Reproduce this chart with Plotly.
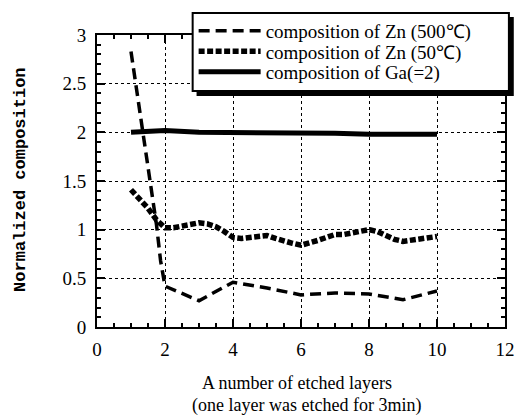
import plotly.graph_objects as go

# ---- data ----
x_zn500 = [1, 1.3, 1.6, 1.75, 1.87, 2, 3, 4, 5, 6, 7, 8, 9, 10]
y_zn500 = [2.83, 2.1, 1.4, 1.05, 0.68, 0.42, 0.27, 0.46, 0.40, 0.33, 0.35, 0.34, 0.28, 0.37]

x_zn50 = [1.0, 1.25, 1.5, 1.75, 2.0, 2.25, 2.5, 2.75, 3.0, 3.25, 3.5, 3.75, 4.0, 4.25, 4.5,
          4.75, 5.0, 5.25, 5.5, 5.75, 6.0, 6.25, 6.5, 6.75, 7.0, 7.25, 7.5, 7.75, 8.0, 8.25,
          8.5, 8.75, 9.0, 9.25, 9.5, 9.75, 10.0]
y_zn50 = [1.41, 1.32, 1.22, 1.10, 1.02, 1.02, 1.04, 1.06, 1.07, 1.06, 1.03, 0.98, 0.92, 0.91, 0.92,
          0.94, 0.94, 0.91, 0.88, 0.86, 0.84, 0.86, 0.89, 0.92, 0.95, 0.95, 0.97, 0.99, 1.00, 0.98,
          0.94, 0.90, 0.88, 0.89, 0.91, 0.91, 0.93]

x_ga = [1, 2, 3, 4, 5, 6, 7, 8, 9, 10]
y_ga = [2.0, 2.02, 2.0, 2.0, 1.99, 1.99, 1.99, 1.98, 1.98, 1.98]

names = ["composition of Zn (500℃)", "composition of Zn (50℃)", "composition of Ga(=2)"]
x_ticks = [0, 2, 4, 6, 8, 10, 12]
y_ticks = [0, 0.5, 1, 1.5, 2, 2.5, 3]
y_ticklabels = ["0", "0.5", "1", "1.5", "2", "2.5", "3"]

# ---- layout geometry (pixels) ----
W, H = 527, 418
L, R, T, B = 97, 515, 35, 327


def px(xp):
    return (xp - L) / (R - L)


def py(yp):
    return (B - yp) / (B - T)


fig = go.Figure()
fig.add_trace(go.Scatter(x=x_zn500, y=y_zn500, mode="lines", name=names[0],
                         line=dict(color="black", width=3.5, dash="11px,6px"),
                         legend="legend"))
fig.add_trace(go.Scatter(x=x_zn50, y=y_zn50, mode="lines", name=names[1],
                         line=dict(color="black", width=5.5, dash="6px,2.5px"),
                         legend="legend2"))
fig.add_trace(go.Scatter(x=x_ga, y=y_ga, mode="lines", name=names[2],
                         line=dict(color="black", width=5),
                         legend="legend3"))

legfont = dict(family="Liberation Serif, serif", size=19, color="black")
legcommon = dict(bgcolor="rgba(0,0,0,0)", borderwidth=0, font=legfont, itemwidth=62,
                 xanchor="left", yanchor="middle", x=px(196))

fig.update_layout(
    width=W, height=H,
    margin=dict(l=L, r=W - R, t=T, b=H - B),
    paper_bgcolor="white", plot_bgcolor="white",
    showlegend=True,
    legend=dict(legcommon, y=py(31)),
    legend2=dict(legcommon, y=py(51.5)),
    legend3=dict(legcommon, y=py(72)),
    xaxis=dict(range=[0, 12], tickvals=x_ticks, ticks="inside", ticklen=8, tickwidth=1.5,
               tickcolor="black", showline=True, linecolor="black", linewidth=2, mirror="allticks",
               showgrid=True, gridcolor="black", griddash="dot", gridwidth=1,
               minor=dict(dtick=0.5, ticks="inside", ticklen=4, tickcolor="black", showgrid=False),
               tickfont=dict(family="Liberation Serif, serif", size=19, color="black"),
               ticklabelstandoff=4, zeroline=False),
    yaxis=dict(range=[0, 3], tickvals=y_ticks, ticktext=y_ticklabels, ticks="inside", ticklen=8,
               tickwidth=1.5, tickcolor="black", showline=True, linecolor="black", linewidth=2,
               mirror="allticks", showgrid=True, gridcolor="black", griddash="dot", gridwidth=1,
               minor=dict(dtick=0.1, ticks="inside", ticklen=4, tickcolor="black", showgrid=False),
               tickfont=dict(family="Liberation Serif, serif", size=19, color="black"),
               ticklabelstandoff=5, zeroline=False),
    shapes=[
        dict(type="rect", xref="paper", yref="paper", x0=px(199), x1=px(524), y0=py(96), y1=py(17),
             fillcolor="black", line=dict(width=0), layer="above"),
        dict(type="rect", xref="paper", yref="paper", x0=px(195), x1=px(519), y0=py(91), y1=py(13),
             fillcolor="white", line=dict(color="black", width=2), layer="above"),
    ],
    annotations=[
        dict(text="Normalized composition", xref="paper", yref="paper", x=px(18), y=py(180),
             textangle=-90, showarrow=False, xanchor="center", yanchor="middle",
             font=dict(family="Liberation Mono, monospace", size=17, color="black", weight="bold")),
        dict(text="A number of etched layers", xref="paper", yref="paper", x=px(302), y=py(383),
             showarrow=False, xanchor="center", yanchor="middle",
             font=dict(family="Liberation Serif, serif", size=18, color="black")),
        dict(text="(one layer was etched for 3min)", xref="paper", yref="paper", x=px(312), y=py(405),
             showarrow=False, xanchor="center", yanchor="middle",
             font=dict(family="Liberation Serif, serif", size=18, color="black")),
    ],
)

fig.write_html("out.html")
